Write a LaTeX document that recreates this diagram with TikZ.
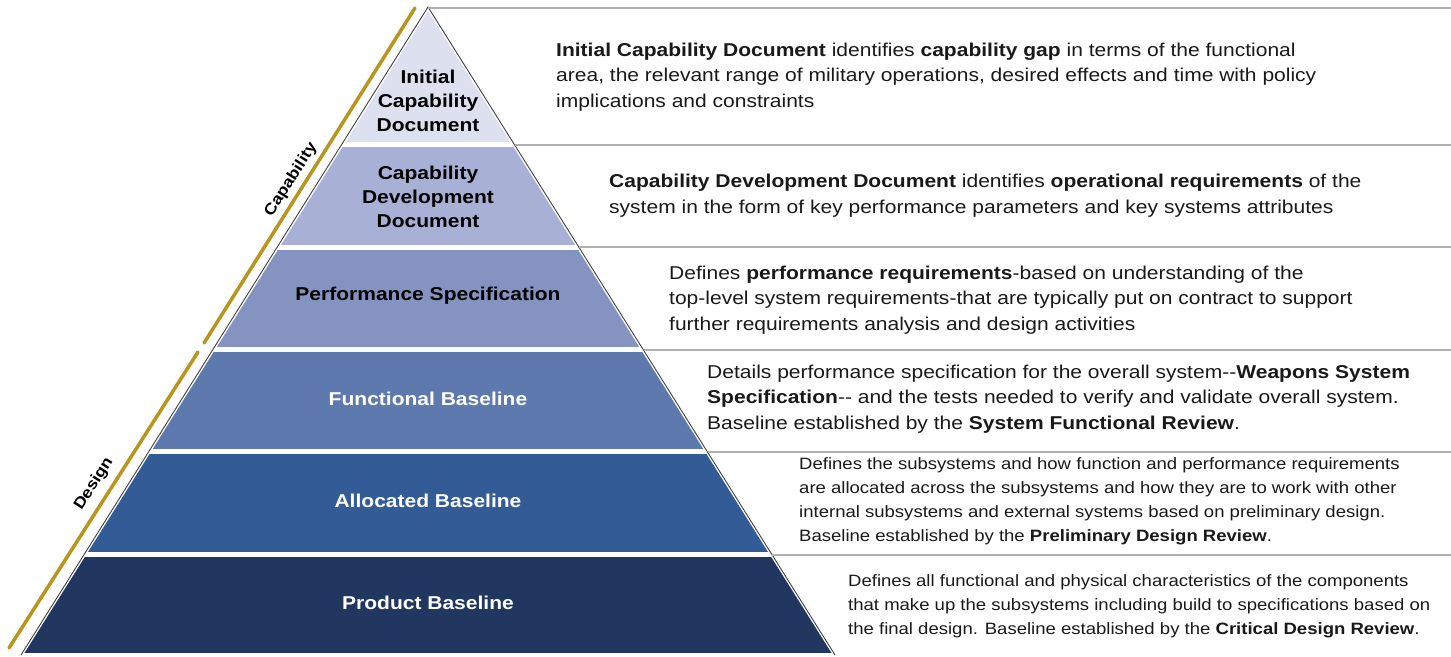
\documentclass[tikz,border=0pt]{standalone}
\usepackage{fontspec}
\setmainfont{Liberation Sans}[FakeStretch=1.13]
\definecolor{c1}{HTML}{DDE0EF}
\definecolor{c2}{HTML}{A8B1D5}
\definecolor{c3}{HTML}{8593C1}
\definecolor{c4}{HTML}{5E79AE}
\definecolor{c5}{HTML}{335C97}
\definecolor{c6}{HTML}{213760}
\definecolor{goldc}{HTML}{B8961E}
\definecolor{sepc}{HTML}{B0B0B0}
\begin{document}
\begin{tikzpicture}[x=1pt,y=-1pt,
  lbl/.style={font=\fontsize{18.6}{24}\selectfont\bfseries, align=center, inner sep=0},
  desc/.style={font=\fontsize{18.6}{25.5}\selectfont, align=left, anchor=west, inner sep=0, text=black!90},
  sdesc/.style={desc, font=\fontsize{16.4}{24}\selectfont},
  sepline/.style={draw=sepc, line width=1.5pt},
  goldline/.style={draw=goldc, line width=3.5pt, line cap=round},
  outline/.style={draw=black!75, line width=0.9pt},
  side/.style={font=\fontsize{15.6}{18}\selectfont\bfseries, rotate=57.5, inner sep=0}]
\useasboundingbox (0,0) rectangle (1451,656);
% layers
\begin{scope}
\clip (428,11) -- (831.5,653) -- (24.5,653) -- cycle;
\fill[c1] (0,0) rectangle (1451,142);
\fill[c2] (0,147) rectangle (1451,245);
\fill[c3] (0,250) rectangle (1451,347);
\fill[c4] (0,352) rectangle (1451,449);
\fill[c5] (0,454) rectangle (1451,552);
\fill[c6] (0,557) rectangle (1451,653);
\end{scope}
% outline
\coordinate (apex) at (428,7);
\coordinate (bl) at (21,655);
\coordinate (br) at (835,655);
\draw[outline] (bl) -- (apex) -- (br);
% separators
\coordinate (s0) at (1451,8);
\draw[sepline] (apex) ++(0,1) -- (s0);
\draw[sepline] (514.7,145) -- (1451,145);
\draw[sepline] (578.8,247) -- (1451,247);
\draw[sepline] (643.6,350) -- (1451,350);
\draw[sepline] (707.7,452) -- (1451,452);
\draw[sepline] (772.4,555) -- (1451,555);
% gold lines
\coordinate (g1a) at (415,8);
\coordinate (g1b) at (204,343);
\coordinate (g2a) at (198,352);
\coordinate (g2b) at (9,648);
\draw[goldline] (g1a) -- (g1b);
\draw[goldline] (g2a) -- (g2b);
\node[side] (cap) at (291,180) {Capability};
\node[side] (des) at (94,484) {Design};
% labels
\node[lbl] (l1) at (428,101) {Initial\\Capability\\Document};
\node[lbl] (l2) at (428,197) {Capability\\Development\\Document};
\node[lbl] (l3) at (428,296) {Performance Specification};
\node[lbl,text=white] (l4) at (428,399) {Functional Baseline};
\node[lbl,text=white] (l5) at (428,501) {Allocated Baseline};
\node[lbl,text=white] (l6) at (428,603) {Product Baseline};
% descriptions
\node[desc] (d1) at (556,77) {\textbf{Initial Capability Document} identifies \textbf{capability gap} in terms of the functional\\area, the relevant range of military operations, desired effects and time with policy\\implications and constraints};
\node[desc] (d2) at (609,195.5) {\textbf{Capability Development Document} identifies \textbf{operational requirements} of the\\system in the form of key performance parameters and key systems attributes};
\node[desc] (d3) at (669,300) {Defines \textbf{performance requirements}-based on understanding of the\\top-level system requirements-that are typically put on contract to support\\further requirements analysis and design activities};
\node[desc] (d4) at (707,399) {Details performance specification for the overall system-{}-\textbf{Weapons System}\\\textbf{Specification}-{}- and the tests needed to verify and validate overall system.\\Baseline established by the \textbf{System Functional Review}.};
\node[sdesc] (d5) at (799,501) {Defines the subsystems and how function and performance requirements\\are allocated across the subsystems and how they are to work with other\\internal subsystems and external systems based on preliminary design.\\Baseline established by the \textbf{Preliminary Design Review}.};
\node[sdesc] (d6) at (848,606) {Defines all functional and physical characteristics of the components\\that make up the subsystems including build to specifications based on\\the final design. Baseline established by the \textbf{Critical Design Review}.};
\end{tikzpicture}
\end{document}
